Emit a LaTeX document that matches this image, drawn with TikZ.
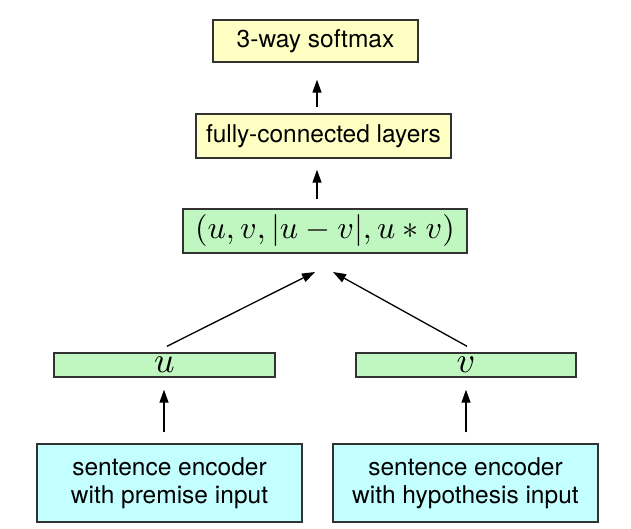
\documentclass[tikz,border=0pt]{standalone}
\usepackage{graphicx}
\usepackage{fontspec}
\setmainfont{TeX Gyre Heros}
\usetikzlibrary{arrows.meta}
\definecolor{boxyellow}{RGB}{255,255,196}
\definecolor{boxgreen}{RGB}{192,246,192}
\definecolor{boxcyan}{RGB}{196,255,255}
\definecolor{edge}{RGB}{50,50,50}
\newcommand{\bigmath}[2][3.2]{\scalebox{#1}{\fontsize{10}{12}\selectfont$#2$}}
\tikzset{
  box/.style={draw=edge, line width=1.4pt, rectangle, inner sep=0pt, align=center,
    font=\fontsize{24.5}{28}\selectfont},
  ybox/.style={box, fill=boxyellow},
  gbox/.style={box, fill=boxgreen},
  cbox/.style={box, fill=boxcyan},
  arr/.style={draw=black, line width=1.3pt, -{Triangle[length=13pt,width=9pt]}}
}
\begin{document}
\begin{tikzpicture}[x=1pt,y=1pt]
\useasboundingbox (0,0) rectangle (631,529);
% y = 529 - ypx
\node[ybox, minimum width=205pt, minimum height=42pt] (sm) at (315.5,488) {3-way softmax};
\node[ybox, minimum width=255pt, minimum height=44pt] (fc) at (323.5,393) {fully-connected layers};
\node[gbox, minimum width=284pt, minimum height=44pt] (cmb) at (325,298) {\bigmath{(u,v,|u-v|,u*v)}};
\node[gbox, minimum width=221pt, minimum height=24pt] (u) at (164.5,164) {\bigmath[3.6]{u}};
\node[gbox, minimum width=220pt, minimum height=24pt] (v) at (466,164) {\bigmath[3.6]{v}};
\node[cbox, minimum width=265pt, minimum height=78pt] (encL) at (169.5,46) {sentence encoder\\with premise input};
\node[cbox, minimum width=265pt, minimum height=78pt] (encR) at (465.5,46) {sentence encoder\\with hypothesis input};
\coordinate (tipL) at (315,257);
\coordinate (tipR) at (333,257);
\draw[arr, shorten <=6pt, shorten >=17pt] ([xshift=-6.5pt]fc.north) -- ([xshift=1.5pt]sm.south);
\draw[arr, shorten <=9pt, shorten >=11pt] ([xshift=-8pt]cmb.north) -- ([xshift=-6.5pt]fc.south);
\draw[arr] ([xshift=2.5pt,yshift=6pt]u.north) -- (tipL);
\draw[arr] ([xshift=1pt,yshift=6pt]v.north) -- (tipR);
\draw[arr, shorten <=11pt, shorten >=12pt] ([xshift=-5.5pt]encL.north) -- ([xshift=-0.5pt]u.south);
\draw[arr, shorten <=11pt, shorten >=12pt] ([xshift=0.5pt]encR.north) -- ([xshift=0pt]v.south);
\end{tikzpicture}
\end{document}
